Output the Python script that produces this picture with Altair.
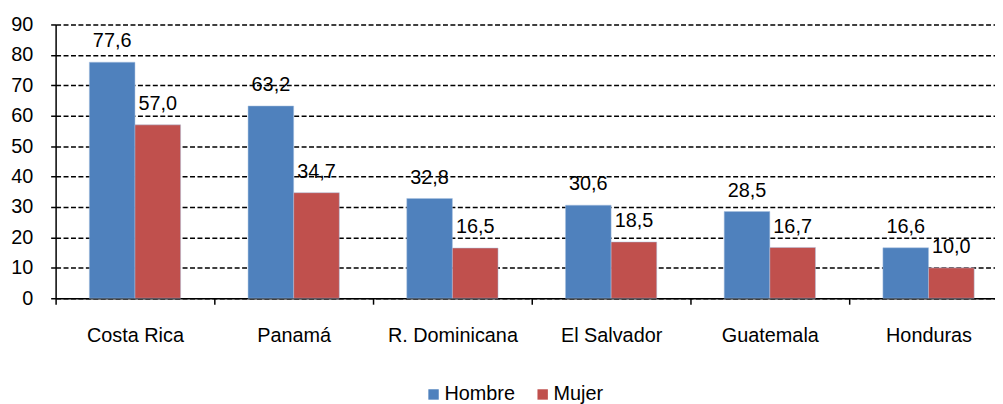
import altair as alt
import pandas as pd

countries = ["Costa Rica", "Panamá", "R. Dominicana", "El Salvador", "Guatemala", "Honduras"]
hombre = [77.6, 63.2, 32.8, 30.6, 28.5, 16.6]
mujer = [57.0, 34.7, 16.5, 18.5, 16.7, 10.0]
series = ["Hombre", "Mujer"]
colors = ["#4F81BD", "#C0504D"]

rows = []
for i, c in enumerate(countries):
    rows.append({"pais": c, "sexo": "Hombre", "valor": hombre[i]})
    rows.append({"pais": c, "sexo": "Mujer", "valor": mujer[i]})
df = pd.DataFrame(rows)

FONT = "Liberation Sans"
FS = 20

x = alt.X("pais:N", sort=countries, title=None,
          scale=alt.Scale(range=[0, 960], paddingInner=0, paddingOuter=0),
          axis=alt.Axis(labelAngle=0, labelFontSize=FS, labelFont=FONT, labelColor="black",
                        domainColor="black", domainWidth=1.5, tickColor="black", tickWidth=1.5,
                        tickSize=6, tickBand="extent", labelPadding=22, grid=False,
                        labelOverlap=False))
xo = alt.XOffset("sexo:N", sort=series,
                 scale=alt.Scale(paddingInner=0, paddingOuter=0.739))
y = alt.Y("valor:Q", title=None,
          scale=alt.Scale(domain=[0, 90], nice=False),
          axis=alt.Axis(values=list(range(0, 100, 10)), labelFontSize=FS, labelFont=FONT,
                        labelColor="black", domainColor="black", domainWidth=1.5,
                        tickColor="black", tickWidth=1.5, tickSize=5, labelPadding=18,
                        labelOverlap=False, labelFlush=False,
                        grid=True, gridColor="black", gridDash=[5, 2.5], gridWidth=1.4))
color = alt.Color("sexo:N", sort=series, scale=alt.Scale(domain=series, range=colors),
                  legend=alt.Legend(title=None, orient="none", direction="horizontal",
                                    legendX=371, legendY=363, symbolType="square",
                                    symbolSize=110, symbolStrokeWidth=0, labelFontSize=FS,
                                    labelFont=FONT, labelColor="black", columnPadding=17,
                                    labelOffset=1))

base = alt.Chart(df).encode(x=x, xOffset=xo, y=y)
bars = base.mark_bar(stroke="#A9C1E0", strokeWidth=0.5).encode(color=color)
labels = base.transform_calculate(
    lab="replace(format(datum.valor, '.1f'), '.', ',')"
).mark_text(fontSize=FS, font=FONT, color="black", baseline="alphabetic", dy=-15).encode(
    text="lab:N")

chart = alt.layer(bars, labels).properties(
    width=947, height=276,
    background="white",
    autosize=alt.AutoSizeParams(type="none"),
    padding={"left": 48, "top": 15, "right": 0, "bottom": 105},
).configure_view(stroke=None)

chart.save("out.html", embed_options={"renderer": "svg", "actions": False})
